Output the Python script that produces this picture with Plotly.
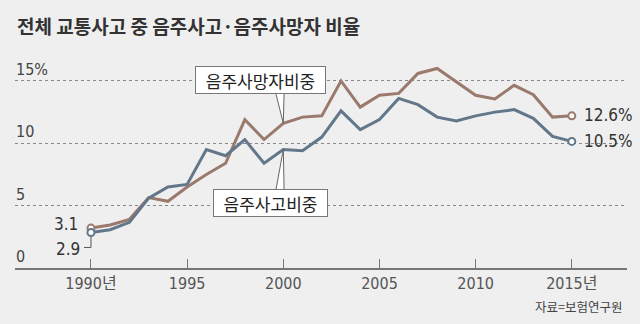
import plotly.graph_objects as go

years = list(range(1990, 2016))
death_ratio = [3.2, 3.45, 3.9, 5.65, 5.35, 6.5, 7.5, 8.4, 11.9, 10.3, 11.6, 12.1, 12.2,
               15.0, 12.9, 13.85, 14.0, 15.6, 16.0, 14.9, 13.85, 13.55, 14.65, 13.9, 12.1, 12.2]
accident_ratio = [2.85, 3.07, 3.66, 5.6, 6.5, 6.7, 9.5, 9.0, 10.3, 8.4, 9.5, 9.4, 10.5,
                  12.6, 11.1, 11.9, 13.6, 13.1, 12.1, 11.8, 12.2, 12.5, 12.7, 12.0, 10.55, 10.15]
tick_years = [1990, 1995, 2000, 2005, 2010, 2015]
tick_text = ["1990년", "1995", "2000", "2005", "2010", "2015년"]
y_labels = [(15, "15%"), (10, "10"), (5, "5"), (0, "0")]
start_labels = ["3.1", "2.9"]
end_labels = ["12.6%", "10.5%"]
title = "전체 교통사고 중 음주사고·음주사망자 비율"
source = "자료=보험연구원"
callout_death = "음주사망자비중"
callout_acc = "음주사고비중"

BROWN = "#9a7a6c"
BLUE = "#627789"
BG = "#efefef"
NARROW = "'Liberation Sans Narrow', 'DejaVu Sans Condensed', 'Noto Sans CJK KR', sans-serif"
KR = "'Noto Sans CJK KR', 'Noto Sans', sans-serif"

XR = [1986.05, 2017.87]
YR = [0, 17]
PXX = 612 / (XR[1] - XR[0])   # px per year
PXY = 212 / (YR[1] - YR[0])   # px per unit

fig = go.Figure()
for vals, col in [(death_ratio, BROWN), (accident_ratio, BLUE)]:
    fig.add_trace(go.Scatter(x=years, y=vals, mode="lines", line=dict(color=col, width=3),
                             hoverinfo="skip", showlegend=False))
for vals, col in [(death_ratio, BROWN), (accident_ratio, BLUE)]:
    fig.add_trace(go.Scatter(x=[years[0], years[-1]], y=[vals[0], vals[-1]], mode="markers",
                             marker=dict(size=7, color="white", line=dict(color=col, width=2)),
                             hoverinfo="skip", showlegend=False))

shapes = []
ly = accident_ratio[0] - 15 / PXY
shapes.append(dict(type="path", xref="x", yref="y", layer="below",
                   path=f"M {years[0]} {accident_ratio[0]} L {years[0]} {ly} L {years[0] - 7 / PXX} {ly}",
                   line=dict(color="#555", width=1)))

i2000 = years.index(2000)
px0 = 2000 - 7.5 / PXX
px1 = 2000 + 0.8 / PXX
top_y = death_ratio[i2000] + 30 / PXY
shapes.append(dict(type="path", xref="x", yref="y", layer="above",
                   path=f"M {px0} {top_y} L {2000} {death_ratio[i2000]} L {px1} {top_y} Z",
                   fillcolor="white", line=dict(color="#666", width=1)))
bot_y = accident_ratio[i2000] - 41 / PXY
shapes.append(dict(type="path", xref="x", yref="y", layer="above",
                   path=f"M {px0} {bot_y} L {2000} {accident_ratio[i2000]} L {px1} {bot_y} Z",
                   fillcolor="white", line=dict(color="#666", width=1)))

ann = []
ann.append(dict(text=title, xref="paper", yref="paper", x=0, y=1, xanchor="left", yanchor="middle",
                xshift=0, yshift=31, showarrow=False,
                font=dict(family=KR, size=19, color="#333", weight="bold")))
for v, t in y_labels:
    ann.append(dict(text=t, xref="paper", yref="y", x=0, y=v, xanchor="left", yanchor="bottom",
                    xshift=-1, yshift=0, showarrow=False, font=dict(family=NARROW, size=16, color="#444")))
ann.append(dict(text=start_labels[0], xref="x", yref="y", x=years[0], y=death_ratio[0],
                xanchor="right", yanchor="middle", xshift=-11, yshift=4, showarrow=False,
                font=dict(family=NARROW, size=17, color="#333")))
ann.append(dict(text=start_labels[1], xref="x", yref="y", x=years[0], y=accident_ratio[0],
                xanchor="right", yanchor="middle", xshift=-9, yshift=-17, showarrow=False,
                font=dict(family=NARROW, size=17, color="#333")))
ann.append(dict(text=end_labels[0], xref="x", yref="y", x=years[-1], y=death_ratio[-1],
                xanchor="left", yanchor="middle", xshift=10, yshift=1, showarrow=False,
                font=dict(family=NARROW, size=17, color="#333")))
ann.append(dict(text=end_labels[1], xref="x", yref="y", x=years[-1], y=accident_ratio[-1],
                xanchor="left", yanchor="middle", xshift=10, yshift=0, showarrow=False,
                font=dict(family=NARROW, size=17, color="#333")))
ann.append(dict(text=callout_death, xref="x", yref="y", x=2000, y=death_ratio[i2000],
                xanchor="center", yanchor="middle", xshift=-23, yshift=43, showarrow=False,
                bgcolor="white", bordercolor="#777", borderwidth=1, borderpad=0,
                width=129, height=26,
                font=dict(family=KR, size=17, color="#222")))
ann.append(dict(text=callout_acc, xref="x", yref="y", x=2000, y=accident_ratio[i2000],
                xanchor="center", yanchor="middle", xshift=-13, yshift=-53, showarrow=False,
                bgcolor="white", bordercolor="#777", borderwidth=1, borderpad=0,
                width=113, height=26,
                font=dict(family=KR, size=17, color="#222")))
ann.append(dict(text=source, xref="paper", yref="paper", x=1, y=0, xanchor="right", yanchor="middle",
                xshift=-3, yshift=-38, showarrow=False, font=dict(family=KR, size=12.5, color="#444")))

fig.update_layout(
    width=640, height=324, paper_bgcolor=BG, plot_bgcolor=BG,
    margin=dict(l=15, r=13, t=56, b=56),
    shapes=shapes, annotations=ann,
    xaxis=dict(range=XR, tickvals=tick_years, ticktext=tick_text, ticks="inside", ticklen=9,
               tickcolor="#777", tickwidth=1, showline=True, linecolor="#777", linewidth=1.5,
               showgrid=False, zeroline=False, fixedrange=True,
               tickfont=dict(family=NARROW, size=16, color="#555")),
    yaxis=dict(range=YR, tickvals=[5, 10, 15], showticklabels=False, showgrid=True,
               gridcolor="#888", gridwidth=1, griddash="dot", zeroline=False, showline=False,
               fixedrange=True),
)
fig.write_html("out.html", config={"displayModeBar": False})
